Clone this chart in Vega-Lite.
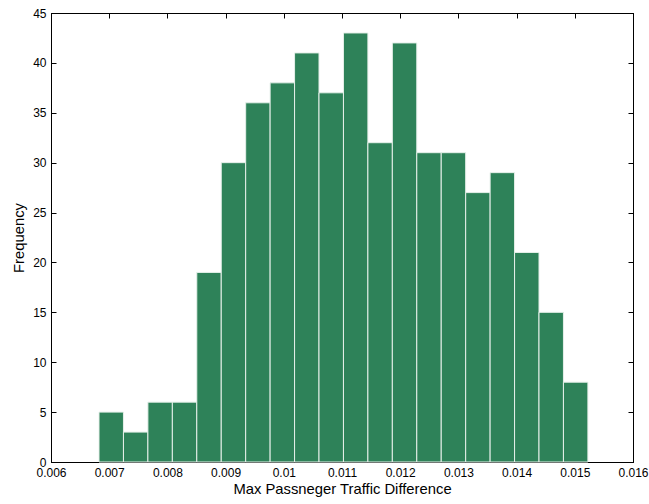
{
  "$schema": "https://vega.github.io/schema/vega-lite/v6.json",
  "width": 582,
  "height": 449,
  "padding": {"left": 51, "top": 13, "right": 16, "bottom": 42},
  "autosize": "none",
  "background": "white",
  "config": {
    "view": {"stroke": "black", "strokeWidth": 1},
    "font": "Liberation Sans",
    "axis": {
      "domainColor": "black",
      "tickColor": "black",
      "labelColor": "black",
      "titleColor": "black",
      "labelFont": "Liberation Sans",
      "titleFont": "Liberation Sans",
      "labelFontSize": 12,
      "titleFontSize": 14.8,
      "titleFontWeight": "normal",
      "grid": false,
      "tickSize": -5,
      "labelPadding": 10,
      "labelFlush": false,
      "labelOverlap": false
    }
  },
  "data": {
    "values": [
      {"bin_start": 0.006825, "bin_end": 0.007245, "count": 5},
      {"bin_start": 0.007245, "bin_end": 0.007665, "count": 3},
      {"bin_start": 0.007665, "bin_end": 0.008085, "count": 6},
      {"bin_start": 0.008085, "bin_end": 0.008505, "count": 6},
      {"bin_start": 0.008505, "bin_end": 0.008925, "count": 19},
      {"bin_start": 0.008925, "bin_end": 0.009345, "count": 30},
      {"bin_start": 0.009345, "bin_end": 0.009765, "count": 36},
      {"bin_start": 0.009765, "bin_end": 0.010185, "count": 38},
      {"bin_start": 0.010185, "bin_end": 0.010605, "count": 41},
      {"bin_start": 0.010605, "bin_end": 0.011025, "count": 37},
      {"bin_start": 0.011025, "bin_end": 0.011445, "count": 43},
      {"bin_start": 0.011445, "bin_end": 0.011865, "count": 32},
      {"bin_start": 0.011865, "bin_end": 0.012285, "count": 42},
      {"bin_start": 0.012285, "bin_end": 0.012705, "count": 31},
      {"bin_start": 0.012705, "bin_end": 0.013125, "count": 31},
      {"bin_start": 0.013125, "bin_end": 0.013545, "count": 27},
      {"bin_start": 0.013545, "bin_end": 0.013965, "count": 29},
      {"bin_start": 0.013965, "bin_end": 0.014385, "count": 21},
      {"bin_start": 0.014385, "bin_end": 0.014805, "count": 15},
      {"bin_start": 0.014805, "bin_end": 0.015225, "count": 8}
    ]
  },
  "layer": [
    {
      "mark": {"type": "rect", "fill": "#2e8259", "stroke": "#e6f0ea", "strokeWidth": 1},
      "encoding": {
        "x": {
          "field": "bin_start", "type": "quantitative",
          "scale": {"domain": [0.006, 0.016], "nice": false, "zero": false},
          "axis": {"orient": "bottom", "title": "Max Passneger Traffic Difference", "values": [0.006, 0.007, 0.008, 0.009, 0.01, 0.011, 0.012, 0.013, 0.014, 0.015, 0.016], "format": ".3~f", "titlePadding": 3}
        },
        "x2": {"field": "bin_end"},
        "y": {
          "field": "count", "type": "quantitative",
          "scale": {"domain": [0, 45], "nice": false, "zero": true},
          "axis": {"orient": "left", "title": "Frequency", "values": [0, 5, 10, 15, 20, 25, 30, 35, 40, 45], "titlePadding": 6}
        },
        "y2": {"datum": 0}
      }
    },
    {
      "mark": {"type": "point", "opacity": 0},
      "encoding": {
        "x": {
          "field": "bin_start", "type": "quantitative",
          "axis": {"orient": "top", "title": null, "labels": false, "values": [0.006, 0.007, 0.008, 0.009, 0.01, 0.011, 0.012, 0.013, 0.014, 0.015, 0.016]}
        },
        "y": {
          "field": "count", "type": "quantitative",
          "axis": {"orient": "right", "title": null, "labels": false, "values": [0, 5, 10, 15, 20, 25, 30, 35, 40, 45]}
        }
      }
    }
  ],
  "resolve": {"axis": {"x": "independent", "y": "independent"}}
}
